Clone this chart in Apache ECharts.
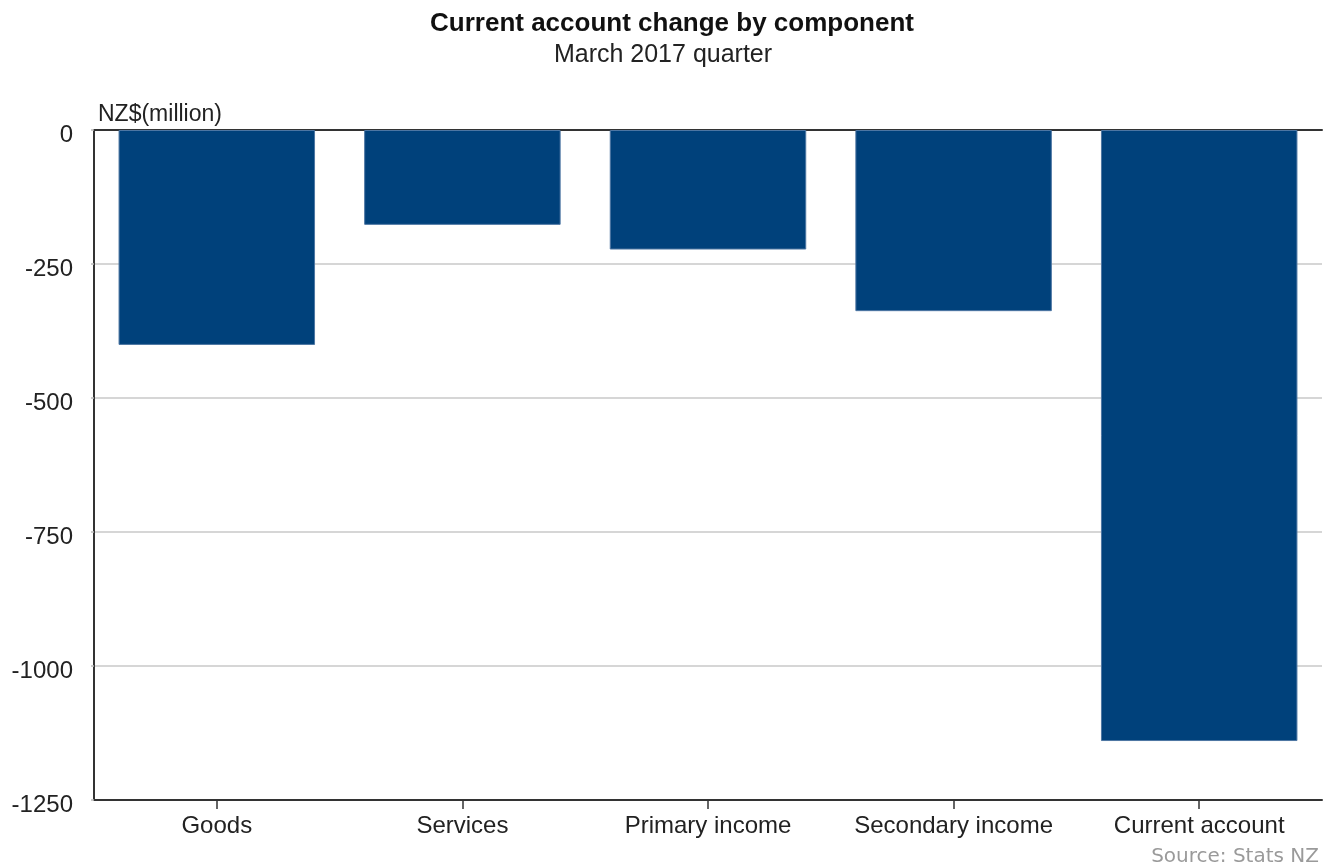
<!DOCTYPE html>
<html>
<head>
<meta charset="utf-8">
<title>Current account change by component</title>
<script src="https://cdn.jsdelivr.net/npm/echarts@6/dist/echarts.min.js"></script>
<style>
  html, body { margin: 0; padding: 0; background: #ffffff; }
  #chart { width: 1341px; height: 865px; }
</style>
</head>
<body>
<div id="chart"></div>
<script>
// Current account components, March 2017 quarter (NZ$ million)
const categories = ['Goods', 'Services', 'Primary income', 'Secondary income', 'Current account'];
const changeValues = [-401, -177, -223, -338, -1140];
const yTicks = { min: -1250, max: 0, interval: 250 };

const FONT = '"Liberation Sans", Arial, sans-serif';

const chart = echarts.init(document.getElementById('chart'), null, { renderer: 'canvas' });

chart.setOption({
  backgroundColor: '#ffffff',
  animation: false,
  title: [
    {
      text: 'Current account change by component',
      left: 667, top: 6, textAlign: 'center',
      textStyle: { fontFamily: FONT, fontSize: 26, fontWeight: 'bold', color: '#111' }
    },
    {
      text: 'March 2017 quarter',
      left: 658, top: 38, textAlign: 'center',
      textStyle: { fontFamily: FONT, fontSize: 25, fontWeight: 'normal', color: '#222' }
    },
    {
      text: 'NZ$(million)',
      left: 93, top: 98,
      textStyle: { fontFamily: FONT, fontSize: 23, fontWeight: 'normal', color: '#222' }
    },
    {
      text: 'Source: Stats NZ',
      right: 17, top: 842,
      textStyle: { fontFamily: '"DejaVu Sans", sans-serif', fontSize: 20, fontWeight: 'normal', color: '#9a9a9a' }
    }
  ],
  grid: { left: 94, right: 19, top: 130, bottom: 65, containLabel: false },
  xAxis: [
    {
      type: 'category',
      data: categories,
      position: 'bottom',
      axisLine: { show: true, onZero: false, lineStyle: { color: '#333', width: 2 } },
      axisTick: { show: true, alignWithLabel: true, length: 9, lineStyle: { color: '#333', width: 1.5 } },
      axisLabel: { fontFamily: FONT, fontSize: 24, color: '#222', margin: 14, interval: 0 },
      splitLine: { show: false }
    },
    {
      // zero baseline along the top of the plot
      type: 'category',
      data: categories,
      position: 'top',
      axisLine: { show: true, onZero: false, lineStyle: { color: '#333', width: 2 } },
      axisTick: { show: false },
      axisLabel: { show: false },
      splitLine: { show: false }
    }
  ],
  yAxis: {
    type: 'value',
    min: yTicks.min,
    max: yTicks.max,
    interval: yTicks.interval,
    axisLine: { show: true, lineStyle: { color: '#333', width: 2 } },
    axisTick: { show: true, length: 3, lineStyle: { color: '#bbb', width: 1.5 } },
    axisLabel: {
      fontFamily: FONT, fontSize: 24, color: '#222', margin: 21,
      formatter: v => '{v|' + String(v) + '}',
      rich: { v: { fontFamily: FONT, fontSize: 24, color: '#222', padding: [10, 0, 0, 0] } }
    },
    splitLine: { show: true, lineStyle: { color: '#c8c8c8', width: 1.5 } }
  },
  series: [
    {
      type: 'bar',
      data: changeValues,
      barCategoryGap: '20%',
      itemStyle: { color: '#00417b', borderColor: '#4d76a3', borderWidth: 1 },
      emphasis: { disabled: true }
    }
  ]
});
</script>
</body>
</html>
